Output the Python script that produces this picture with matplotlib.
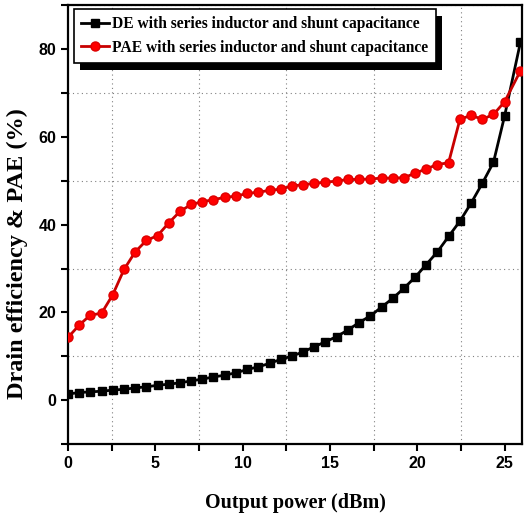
import matplotlib
matplotlib.use('Agg')
import matplotlib.pyplot as plt
from matplotlib.ticker import MultipleLocator
from matplotlib.patches import Rectangle

# Output power (dBm)
power = [0, 0.64, 1.28, 1.92, 2.56, 3.21, 3.85, 4.49, 5.13, 5.77, 6.41, 7.05, 7.69,
         8.33, 8.97, 9.62, 10.26, 10.9, 11.54, 12.18, 12.82, 13.46, 14.1, 14.74,
         15.38, 16.03, 16.67, 17.31, 17.95, 18.59, 19.23, 19.87, 20.51, 21.15,
         21.79, 22.44, 23.08, 23.72, 24.36, 25.0, 25.9]

# Drain efficiency (%)
de = [1.4, 1.75, 1.9, 2.05, 2.3, 2.5, 2.8, 3.05, 3.4, 3.65, 3.96, 4.4, 4.8, 5.3,
      5.7, 6.25, 7.0, 7.6, 8.4, 9.3, 10.05, 11.0, 12.2, 13.3, 14.5, 16.0, 17.7,
      19.2, 21.2, 23.2, 25.5, 28.0, 30.9, 33.8, 37.3, 40.8, 44.9, 49.4, 54.2,
      64.8, 81.5]

# Power added efficiency (%)
pae = [14.3, 17.1, 19.4, 19.8, 24.0, 29.8, 33.8, 36.4, 37.5, 40.4, 43.0, 44.6,
       45.2, 45.7, 46.2, 46.5, 47.1, 47.4, 47.8, 48.1, 48.8, 49.1, 49.4, 49.7,
       49.9, 50.3, 50.3, 50.4, 50.6, 50.6, 50.7, 51.7, 52.7, 53.7, 54.1, 64.0,
       64.9, 64.0, 65.1, 68.0, 75.0]

labels = ['DE with series inductor and shunt capacitance',
          'PAE with series inductor and shunt capacitance']

fig = plt.figure(figsize=(5.25, 5.17), dpi=100)
ax = fig.add_axes([0.1295, 0.141, 0.865, 0.849])

ax.plot(power, de, color='black', lw=2.0, marker='s', ms=5.5,
        label=labels[0], zorder=3)
ax.plot(power, pae, color='#c80000', lw=2.0, marker='o', ms=6.5,
        markerfacecolor='#ff0000', markeredgecolor='#dd0000',
        label=labels[1], zorder=4)

ax.set_xlim(0, 26)
ax.set_ylim(-10, 90)
ax.xaxis.set_major_locator(MultipleLocator(5))
ax.xaxis.set_minor_locator(MultipleLocator(2.5))
ax.yaxis.set_major_locator(MultipleLocator(20))
ax.yaxis.set_minor_locator(MultipleLocator(10))
ax.grid(which='minor', color='#808080', linestyle=(0, (1, 3)), lw=0.8)

ax.tick_params(which='both', direction='out', width=1.5, length=5,
               top=False, right=False)
for lab in ax.get_xticklabels() + ax.get_yticklabels():
    lab.set_fontfamily('Liberation Sans')
    lab.set_fontweight('bold')
    lab.set_fontsize(11.5)
for sp in ax.spines.values():
    sp.set_linewidth(1.6)

ax.set_xlabel('Output power (dBm)', family='Liberation Serif',
              fontweight='bold', fontsize=14.5, labelpad=16)
ax.set_ylabel('Drain efficiency & PAE (%)', family='Liberation Serif',
              fontweight='bold', fontsize=17.5)
ax.yaxis.set_label_coords(-0.088, 0.435)

leg = ax.legend(loc='upper left', bbox_to_anchor=(0.014, 0.991),
                prop={'family': 'Liberation Serif', 'weight': 'bold', 'size': 11.2},
                fancybox=False, edgecolor='black', framealpha=1,
                handlelength=1.8, handletextpad=0.2, borderpad=0.45,
                labelspacing=0.5, borderaxespad=0)
leg.get_frame().set_linewidth(1.2)
leg.set_zorder(10)

# solid black drop shadow behind the legend box
fig.canvas.draw()
bb = leg.get_window_extent().transformed(fig.transFigure.inverted())
dx, dy = 6 / fig.bbox.width, 7 / fig.bbox.height
shadow = Rectangle((bb.x0 + dx, bb.y0 - dy), bb.width, bb.height,
                   transform=fig.transFigure, facecolor='black',
                   edgecolor='none', zorder=9)
ax.add_artist(shadow)

fig.savefig('out.png', dpi=100)
